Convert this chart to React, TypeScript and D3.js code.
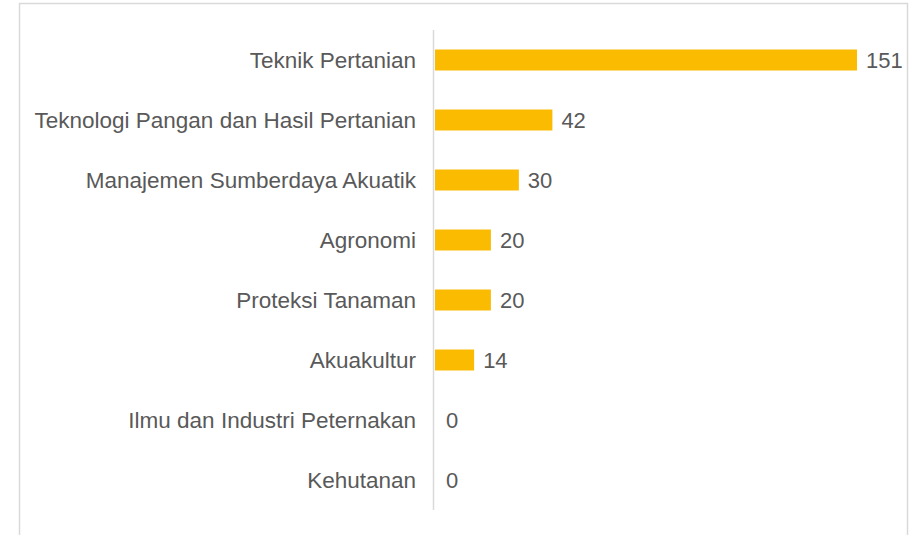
import React from "react";
import * as d3 from "d3";

const categories = [
  "Teknik Pertanian",
  "Teknologi Pangan dan Hasil Pertanian",
  "Manajemen Sumberdaya Akuatik",
  "Agronomi",
  "Proteksi Tanaman",
  "Akuakultur",
  "Ilmu dan Industri Peternakan",
  "Kehutanan",
];
const values = [151, 42, 30, 20, 20, 14, 0, 0];

const W = 910;
const H = 535;

export default function App() {
  const axisX = 433.5;
  const x = d3.scaleLinear().domain([0, 151]).range([435, 857]);
  const y = d3
    .scaleBand<string>()
    .domain(categories)
    .range([30, 510])
    .paddingInner(0.65)
    .paddingOuter(0.325);
  const font = "Arial, 'Liberation Sans', sans-serif";
  const textColor = "#595959";
  return (
    <svg
      width={W}
      height={H}
      style={{ position: "absolute", left: 0, top: 0, background: "#fff" }}
    >
      <rect x={19.5} y={3.5} width={888} height={H + 10} fill="#fff" stroke="#d9d9d9" strokeWidth={1.5} />
      {categories.map((c, i) => {
        const yc = (y(c) as number) + y.bandwidth() / 2;
        return (
          <g key={c}>
            <rect
              x={x(0)}
              y={y(c)}
              width={Math.max(0, x(values[i]) - x(0))}
              height={y.bandwidth()}
              fill="#FABB00"
            />
            <text
              x={416}
              y={yc}
              dy="0.35em"
              textAnchor="end"
              fontFamily={font}
              fontSize={22.5}
              fill={textColor}
            >
              {c}
            </text>
            <text
              x={x(values[i]) + (values[i] === 0 ? 11 : 9)}
              y={yc}
              dy="0.35em"
              fontFamily={font}
              fontSize={22}
              fill={textColor}
            >
              {values[i]}
            </text>
          </g>
        );
      })}
      <line x1={axisX} x2={axisX} y1={30} y2={510} stroke="#d9d9d9" strokeWidth={1.5} />
    </svg>
  );
}
